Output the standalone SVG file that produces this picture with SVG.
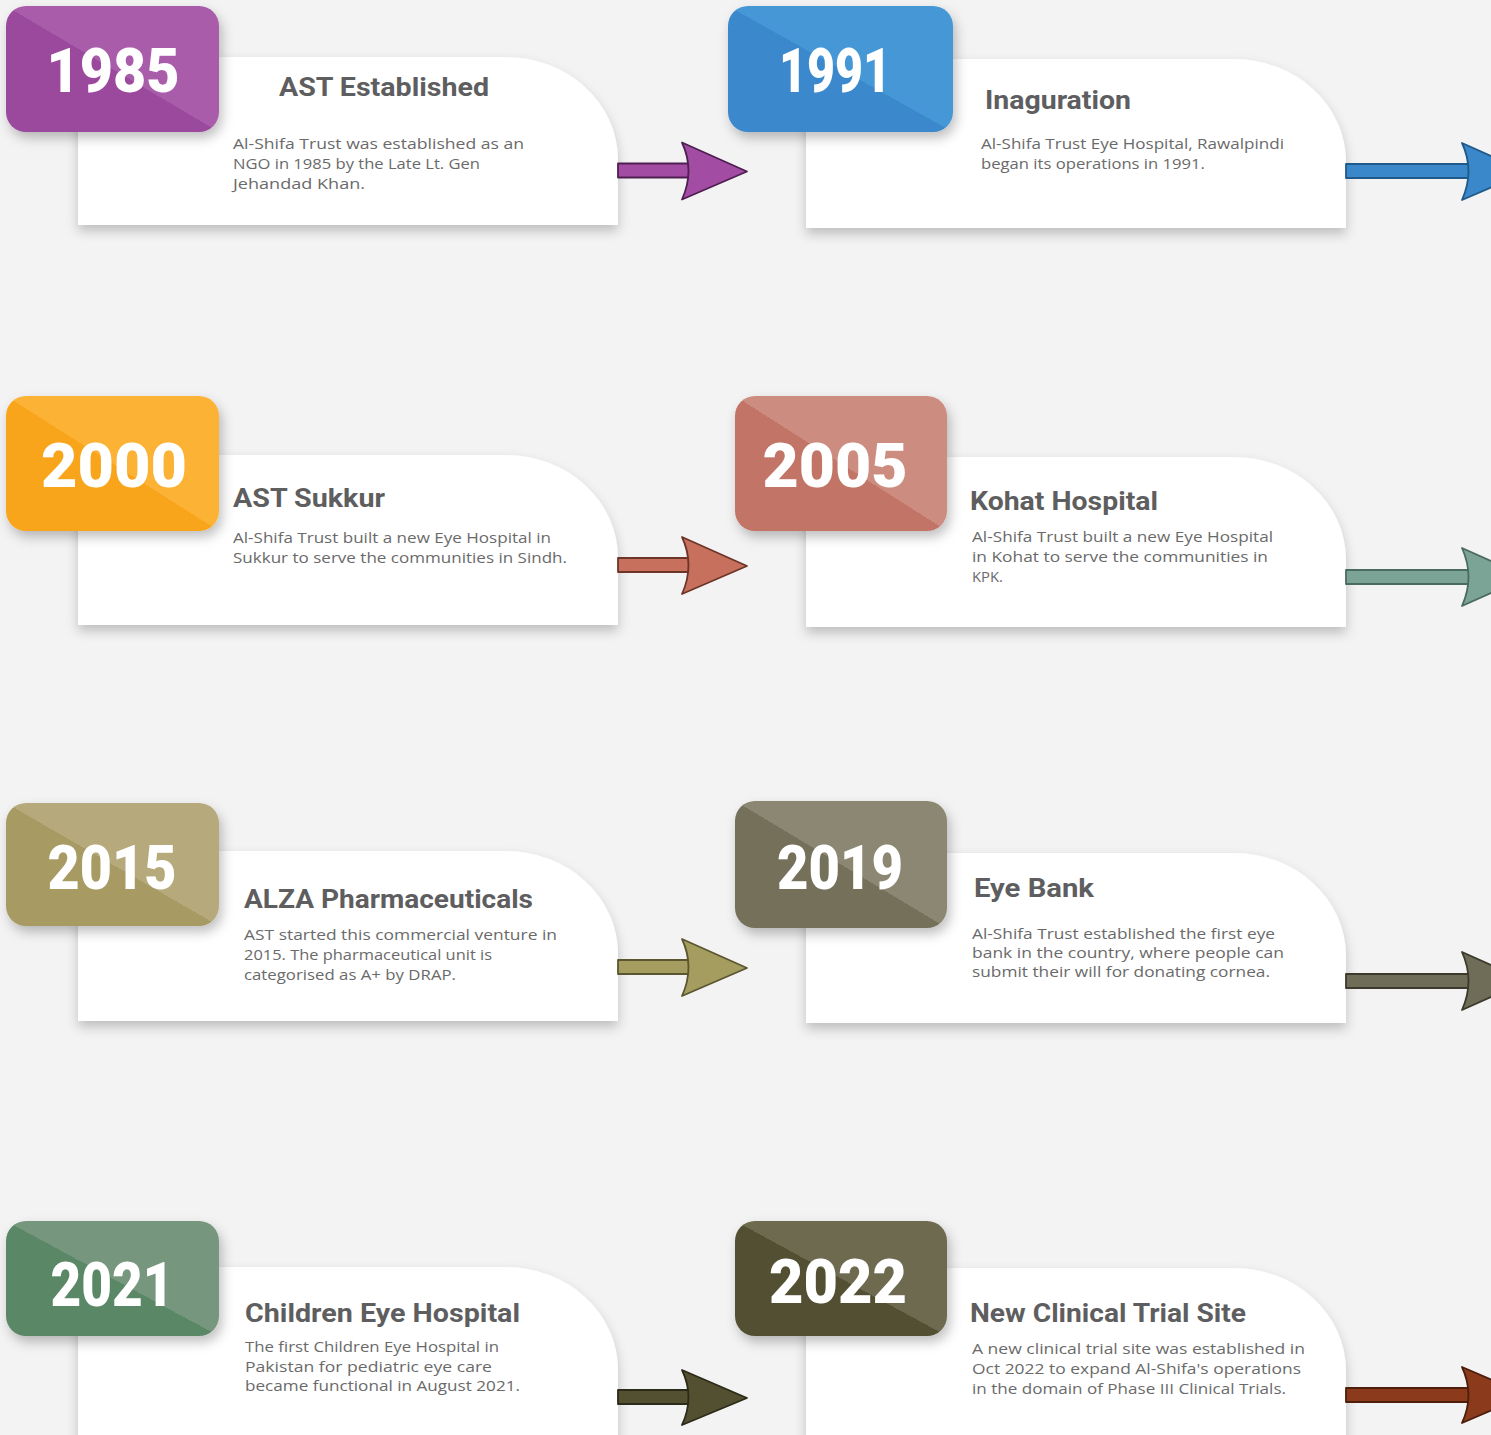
<svg xmlns="http://www.w3.org/2000/svg" width="1491" height="1435" viewBox="0 0 1491 1435">
<defs>
<style>
.year{font-family:Roboto,"Liberation Sans",sans-serif;font-weight:900;font-size:61px;fill:#ffffff;text-anchor:middle}
.title{font-family:Roboto,"Liberation Sans",sans-serif;font-weight:700;font-size:25px;fill:#5e5e60}
.desc{font-family:"Open Sans","Liberation Sans",sans-serif;font-size:15px;fill:#6a6a6a}
.card{fill:#ffffff;filter:url(#cardShadow)}
.badge{filter:url(#badgeShadow)}
.arrow path{stroke-width:1.8;stroke-linejoin:round}
</style>
<filter id="cardShadow" x="-10%" y="-20%" width="120%" height="150%">
<feDropShadow dx="0" dy="6" stdDeviation="6" flood-color="#000" flood-opacity="0.22"/>
</filter>
<filter id="badgeShadow" x="-15%" y="-20%" width="140%" height="150%">
<feDropShadow dx="3" dy="6" stdDeviation="6" flood-color="#000" flood-opacity="0.25"/>
</filter>
<linearGradient id="g1985" x1="0" y1="1" x2="1" y2="0"><stop offset="0.5" stop-color="#9b489c"/><stop offset="0.5" stop-color="#a85ca9"/></linearGradient>
<linearGradient id="g1991" x1="0" y1="1" x2="1" y2="0"><stop offset="0.5" stop-color="#3a88cc"/><stop offset="0.5" stop-color="#4597d6"/></linearGradient>
<linearGradient id="g2000" x1="0" y1="1" x2="1" y2="0"><stop offset="0.5" stop-color="#f8a51b"/><stop offset="0.5" stop-color="#fbb236"/></linearGradient>
<linearGradient id="g2005" x1="0" y1="1" x2="1" y2="0"><stop offset="0.5" stop-color="#c27466"/><stop offset="0.5" stop-color="#cc8c7f"/></linearGradient>
<linearGradient id="g2015" x1="0" y1="1" x2="1" y2="0"><stop offset="0.5" stop-color="#a79a62"/><stop offset="0.5" stop-color="#b6aa7c"/></linearGradient>
<linearGradient id="g2019" x1="0" y1="1" x2="1" y2="0"><stop offset="0.5" stop-color="#74705a"/><stop offset="0.5" stop-color="#8b8772"/></linearGradient>
<linearGradient id="g2021" x1="0" y1="1" x2="1" y2="0"><stop offset="0.5" stop-color="#5a8766"/><stop offset="0.5" stop-color="#76967d"/></linearGradient>
<linearGradient id="g2022" x1="0" y1="1" x2="1" y2="0"><stop offset="0.5" stop-color="#535032"/><stop offset="0.5" stop-color="#6d6a4f"/></linearGradient>
</defs>
<rect width="1491" height="1435" fill="#f3f3f4"/>

<g id="node-1985">
<path class="card" d="M78,57 H506 A112,103 0 0 1 618,160 V225 H78 Z"/>
<rect class="badge" x="6" y="6" width="213" height="126" rx="20" fill="url(#g1985)"/>
<text class="year" x="113" y="92" textLength="133" lengthAdjust="spacingAndGlyphs">1985</text>
<text class="title" x="279" y="96" textLength="210" lengthAdjust="spacingAndGlyphs">AST Established</text>
<text class="desc" x="233" y="149" textLength="291" lengthAdjust="spacingAndGlyphs">Al-Shifa Trust was established as an</text>
<text class="desc" x="233" y="169" textLength="247" lengthAdjust="spacingAndGlyphs">NGO in 1985 by the Late Lt. Gen</text>
<text class="desc" x="233" y="189" textLength="132" lengthAdjust="spacingAndGlyphs">Jehandad Khan.</text>
</g>

<g id="node-1991">
<path class="card" d="M806,59 H1234 A112,103 0 0 1 1346,162 V228 H806 Z"/>
<rect class="badge" x="728" y="6" width="225" height="126" rx="20" fill="url(#g1991)"/>
<text class="year" x="835" y="92" textLength="112" lengthAdjust="spacingAndGlyphs">1991</text>
<text class="title" x="985" y="109" textLength="146" lengthAdjust="spacingAndGlyphs">Inaguration</text>
<text class="desc" x="981" y="149" textLength="303" lengthAdjust="spacingAndGlyphs">Al-Shifa Trust Eye Hospital, Rawalpindi</text>
<text class="desc" x="981" y="169" textLength="224" lengthAdjust="spacingAndGlyphs">began its operations in 1991.</text>
</g>

<g id="node-2000">
<path class="card" d="M78,455 H506 A112,103 0 0 1 618,558 V625 H78 Z"/>
<rect class="badge" x="6" y="396" width="213" height="135" rx="20" fill="url(#g2000)"/>
<text class="year" x="114" y="487" textLength="146" lengthAdjust="spacingAndGlyphs">2000</text>
<text class="title" x="233" y="507" textLength="152" lengthAdjust="spacingAndGlyphs">AST Sukkur</text>
<text class="desc" x="233" y="543" textLength="318" lengthAdjust="spacingAndGlyphs">Al-Shifa Trust built a new Eye Hospital in</text>
<text class="desc" x="233" y="563" textLength="334" lengthAdjust="spacingAndGlyphs">Sukkur to serve the communities in Sindh.</text>
</g>

<g id="node-2005">
<path class="card" d="M806,457 H1234 A112,103 0 0 1 1346,560 V627 H806 Z"/>
<rect class="badge" x="735" y="396" width="212" height="135" rx="20" fill="url(#g2005)"/>
<text class="year" x="835" y="487" textLength="145" lengthAdjust="spacingAndGlyphs">2005</text>
<text class="title" x="970" y="510" textLength="188" lengthAdjust="spacingAndGlyphs">Kohat Hospital</text>
<text class="desc" x="972" y="542" textLength="301" lengthAdjust="spacingAndGlyphs">Al-Shifa Trust built a new Eye Hospital</text>
<text class="desc" x="972" y="562" textLength="296" lengthAdjust="spacingAndGlyphs">in Kohat to serve the communities in</text>
<text class="desc" x="972" y="582" textLength="31" lengthAdjust="spacingAndGlyphs">KPK.</text>
</g>

<g id="node-2015">
<path class="card" d="M78,851 H506 A112,103 0 0 1 618,954 V1021 H78 Z"/>
<rect class="badge" x="6" y="803" width="213" height="123" rx="20" fill="url(#g2015)"/>
<text class="year" x="112" y="889" textLength="129" lengthAdjust="spacingAndGlyphs">2015</text>
<text class="title" x="244" y="908" textLength="289" lengthAdjust="spacingAndGlyphs">ALZA Pharmaceuticals</text>
<text class="desc" x="244" y="940" textLength="313" lengthAdjust="spacingAndGlyphs">AST started this commercial venture in</text>
<text class="desc" x="244" y="960" textLength="248" lengthAdjust="spacingAndGlyphs">2015. The pharmaceutical unit is</text>
<text class="desc" x="244" y="980" textLength="212" lengthAdjust="spacingAndGlyphs">categorised as A+ by DRAP.</text>
</g>

<g id="node-2019">
<path class="card" d="M806,853 H1234 A112,103 0 0 1 1346,956 V1023 H806 Z"/>
<rect class="badge" x="735" y="801" width="212" height="127" rx="20" fill="url(#g2019)"/>
<text class="year" x="840" y="889" textLength="126" lengthAdjust="spacingAndGlyphs">2019</text>
<text class="title" x="974" y="897" textLength="120" lengthAdjust="spacingAndGlyphs">Eye Bank</text>
<text class="desc" x="972" y="939" textLength="303" lengthAdjust="spacingAndGlyphs">Al-Shifa Trust established the first eye</text>
<text class="desc" x="972" y="958" textLength="312" lengthAdjust="spacingAndGlyphs">bank in the country, where people can</text>
<text class="desc" x="972" y="977" textLength="298" lengthAdjust="spacingAndGlyphs">submit their will for donating cornea.</text>
</g>

<g id="node-2021">
<path class="card" d="M78,1267 H506 A112,103 0 0 1 618,1370 V1460 H78 Z"/>
<rect class="badge" x="6" y="1221" width="213" height="115" rx="20" fill="url(#g2021)"/>
<text class="year" x="112" y="1306" textLength="123" lengthAdjust="spacingAndGlyphs">2021</text>
<text class="title" x="245" y="1322" textLength="275" lengthAdjust="spacingAndGlyphs">Children Eye Hospital</text>
<text class="desc" x="245" y="1352" textLength="254" lengthAdjust="spacingAndGlyphs">The first Children Eye Hospital in</text>
<text class="desc" x="245" y="1372" textLength="247" lengthAdjust="spacingAndGlyphs">Pakistan for pediatric eye care</text>
<text class="desc" x="245" y="1391" textLength="275" lengthAdjust="spacingAndGlyphs">became functional in August 2021.</text>
</g>

<g id="node-2022">
<path class="card" d="M806,1268 H1234 A112,103 0 0 1 1346,1371 V1460 H806 Z"/>
<rect class="badge" x="735" y="1221" width="212" height="115" rx="20" fill="url(#g2022)"/>
<text class="year" x="838" y="1303" textLength="138" lengthAdjust="spacingAndGlyphs">2022</text>
<text class="title" x="970" y="1322" textLength="276" lengthAdjust="spacingAndGlyphs">New Clinical Trial Site</text>
<text class="desc" x="972" y="1354" textLength="333" lengthAdjust="spacingAndGlyphs">A new clinical trial site was established in</text>
<text class="desc" x="972" y="1374" textLength="329" lengthAdjust="spacingAndGlyphs">Oct 2022 to expand Al-Shifa's operations</text>
<text class="desc" x="972" y="1394" textLength="314" lengthAdjust="spacingAndGlyphs">in the domain of Phase III Clinical Trials.</text>
</g>

<g id="connectors">
<g class="arrow" fill="#a24ca4" stroke="#4e1f50" transform="translate(0,170.5)">
<path d="M618,-7 H692 V7 H618 Z"/><path d="M682,-28 L747,1 L682,29 Q695,0 682,-28 Z"/>
</g>
<g class="arrow" fill="#3a88c9" stroke="#1f5a8a" transform="translate(0,171)">
<path d="M1346,-7 H1472 V7 H1346 Z"/><path d="M1462,-28 L1527,1 L1462,29 Q1475,0 1462,-28 Z"/>
</g>
<g class="arrow" fill="#c8705e" stroke="#6d3528" transform="translate(0,565)">
<path d="M618,-7 H692 V7 H618 Z"/><path d="M682,-28 L747,1 L682,29 Q695,0 682,-28 Z"/>
</g>
<g class="arrow" fill="#7ba396" stroke="#4a6b62" transform="translate(0,577)">
<path d="M1346,-7 H1472 V7 H1346 Z"/><path d="M1462,-29 L1527,0 L1462,29 Q1475,0 1462,-29 Z"/>
</g>
<g class="arrow" fill="#a59d5f" stroke="#5b5530" transform="translate(0,967)">
<path d="M618,-7 H692 V7 H618 Z"/><path d="M682,-28 L747,1 L682,29 Q695,0 682,-28 Z"/>
</g>
<g class="arrow" fill="#6f6d58" stroke="#3b3a2c" transform="translate(0,981)">
<path d="M1346,-7 H1472 V7 H1346 Z"/><path d="M1462,-29 L1527,0 L1462,29 Q1475,0 1462,-29 Z"/>
</g>
<g class="arrow" fill="#535032" stroke="#2c2a18" transform="translate(0,1397)">
<path d="M618,-7 H692 V7 H618 Z"/><path d="M682,-27 L747,1 L682,28 Q695,0 682,-27 Z"/>
</g>
<g class="arrow" fill="#8b3a1c" stroke="#4d1e0c" transform="translate(0,1395)">
<path d="M1346,-7 H1472 V7 H1346 Z"/><path d="M1462,-28 L1527,0 L1462,28 Q1475,0 1462,-28 Z"/>
</g>
</g>
</svg>
